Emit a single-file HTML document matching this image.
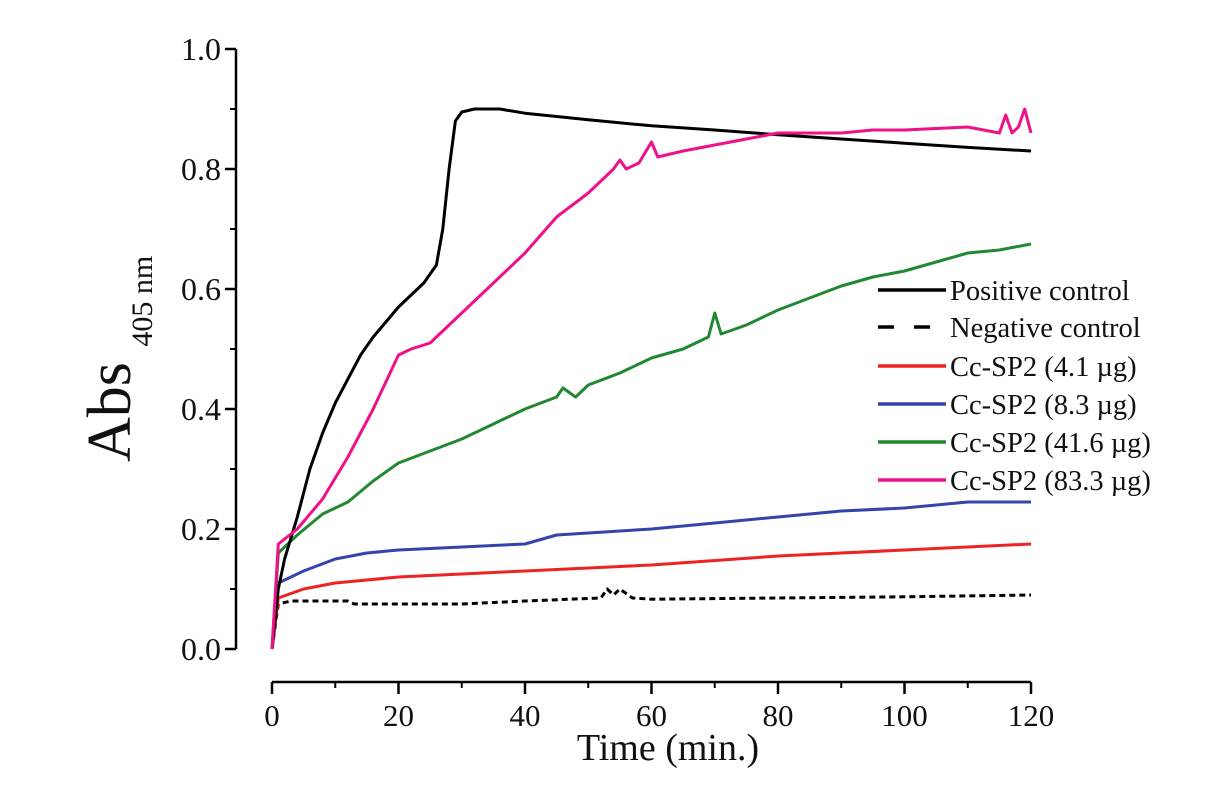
<!DOCTYPE html>
<html><head><meta charset="utf-8"><style>
html,body{margin:0;padding:0;background:#fff;}
svg{display:block;font-family:"Liberation Serif",serif;}
</style></head><body>
<svg id="chart" width="1210" height="788" viewBox="0 0 1210 788"></svg>
<script>
const xTicks=[0,20,40,60,80,100,120];
const yTicks=[0.0,0.2,0.4,0.6,0.8,1.0];
const yTickLabels=["0.0","0.2","0.4","0.6","0.8","1.0"];
const posT=[0,1,2,4,6,8,10,12,14,16,18,20,22,24,26,27,28,29,30,32,36,40,50,60,70,80,90,100,110,120];
const posV=[0,0.1,0.15,0.22,0.3,0.36,0.41,0.45,0.49,0.52,0.545,0.57,0.59,0.61,0.64,0.7,0.8,0.88,0.895,0.9,0.9,0.893,0.882,0.872,0.865,0.857,0.85,0.843,0.836,0.83];
const negT=[0,1,3,12,13,30,40,52,53,54,55,57,60,80,100,120];
const negV=[0,0.075,0.08,0.08,0.075,0.075,0.08,0.085,0.1,0.09,0.1,0.085,0.083,0.085,0.087,0.09];
const redT=[0,1,5,10,20,30,40,60,80,100,120];
const redV=[0,0.085,0.1,0.11,0.12,0.125,0.13,0.14,0.155,0.165,0.175];
const blueT=[0,1,5,10,15,20,30,40,45,60,70,80,90,100,110,120];
const blueV=[0,0.11,0.13,0.15,0.16,0.165,0.17,0.175,0.19,0.2,0.21,0.22,0.23,0.235,0.245,0.245];
const greenT=[0,1,4,8,12,16,20,25,30,35,40,45,46,48,50,55,60,65,69,70,71,75,80,85,90,95,100,105,110,115,120];
const greenV=[0,0.16,0.19,0.225,0.245,0.28,0.31,0.33,0.35,0.375,0.4,0.42,0.435,0.42,0.44,0.46,0.485,0.5,0.52,0.56,0.525,0.54,0.565,0.585,0.605,0.62,0.63,0.645,0.66,0.665,0.675];
const pinkT=[0,1,4,8,12,16,20,22,25,28,30,35,40,45,50,54,55,56,58,60,61,65,70,75,80,85,90,95,100,110,115,116,117,118,119,120];
const pinkV=[0,0.175,0.2,0.25,0.32,0.4,0.49,0.5,0.51,0.54,0.56,0.61,0.66,0.72,0.76,0.8,0.815,0.8,0.81,0.845,0.82,0.83,0.84,0.85,0.86,0.86,0.86,0.865,0.865,0.87,0.86,0.89,0.86,0.87,0.9,0.86];
const legendLabels=["Positive control","Negative control","Cc-SP2 (4.1 µg)","Cc-SP2 (8.3 µg)","Cc-SP2 (41.6 µg)","Cc-SP2 (83.3 µg)"];

const NS="http://www.w3.org/2000/svg";
const svg=document.getElementById('chart');
const X=t=>272+t*(1031-272)/120;
const Y=v=>649-v*600;
function mk(tag,attrs,parent){const e=document.createElementNS(NS,tag);for(const k in attrs)e.setAttribute(k,attrs[k]);(parent||svg).appendChild(e);return e;}

let ya=mk('path',{d:'M236,49 V649',stroke:'#000','stroke-width':2.5,fill:'none'});


yTicks.forEach((v,i)=>{
  let t=mk('line',{x1:225,x2:236,y1:Y(v),y2:Y(v),stroke:'#000','stroke-width':2.5});
  
  
  if(i<yTicks.length-1){let m=mk('line',{x1:230,x2:236,y1:Y(v+0.1),y2:Y(v+0.1),stroke:'#000','stroke-width':2});
  
  }
  let l=mk('text',{x:221,y:Y(v)+11,'text-anchor':'end','font-size':32,fill:'#111'});
  l.textContent=yTickLabels[i];
  
  
});
let xa=mk('path',{d:'M272,682 H1031',stroke:'#000','stroke-width':2.5,fill:'none'});


xTicks.forEach((v,i)=>{
  let t=mk('line',{x1:X(v),x2:X(v),y1:682,y2:694,stroke:'#000','stroke-width':2.5});
  
  
  if(i<xTicks.length-1){let m=mk('line',{x1:X(v+10),x2:X(v+10),y1:682,y2:688,stroke:'#000','stroke-width':2});
  
  }
  let l=mk('text',{x:X(v),y:726,'text-anchor':'middle','font-size':31,fill:'#111'});
  l.textContent=String(v);
  
  
});
let xt=mk('text',{x:668,y:760,'text-anchor':'middle','font-size':38,fill:'#111'});
xt.textContent='Time (min.)';


let yt=mk('text',{transform:'translate(130,462) rotate(-90)','font-size':62,fill:'#111'});


let ts1=mk('tspan',{},yt);ts1.textContent='Abs ';
let ts2=mk('tspan',{'font-size':30,dy:22},yt);ts2.textContent='405 nm';

const series=[
 {n:'negative-control-line',t:negT,v:negV,c:'#000',d:'6,4'},
 {n:'red-line',t:redT,v:redV,c:'#ee2222'},
 {n:'blue-line',t:blueT,v:blueV,c:'#3344aa'},
 {n:'green-line',t:greenT,v:greenV,c:'#228833'},
 {n:'positive-control-line',t:posT,v:posV,c:'#000'},
 {n:'pink-line',t:pinkT,v:pinkV,c:'#ee1188'}
];
series.forEach(s=>{
  const d=s.t.map((t,i)=>(i?'L':'M')+X(t).toFixed(1)+','+Y(s.v[i]).toFixed(1)).join(' ');
  let p=mk('path',{d:d,stroke:s.c,'stroke-width':3,fill:'none','stroke-linejoin':'round'});
  if(s.d)p.setAttribute('stroke-dasharray',s.d);
  
  
});
const legColors=['#000','#000','#ee2222','#3344aa','#228833','#ee1188'];
const legY=[290,327,366,404,442,480];
legendLabels.forEach((lab,i)=>{
  let g=mk('g',{});
  
  
  let ln=mk('line',{x1:878,x2:946,y1:legY[i],y2:legY[i],stroke:legColors[i],'stroke-width':3.5},g);
  if(i===1)ln.setAttribute('stroke-dasharray','16,20');
  let tx=mk('text',{x:950,y:legY[i]+10,'font-size':28.5,fill:'#111'},g);
  tx.textContent=lab;
});
</script>
</body></html>
